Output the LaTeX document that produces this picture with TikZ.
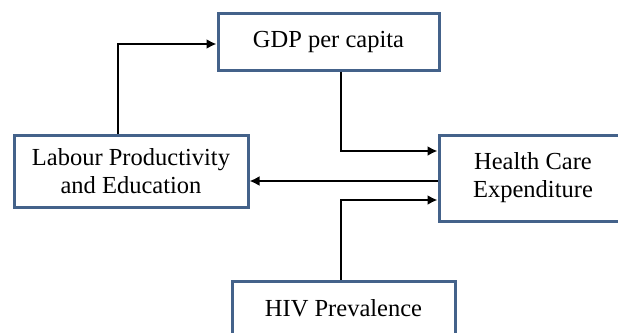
\documentclass[tikz,border=0pt]{standalone}
\usepackage{fontspec}
\setmainfont{Liberation Serif}
\usetikzlibrary{arrows.meta}
\definecolor{boxline}{RGB}{68,98,138}
\begin{document}
\begin{tikzpicture}[x=1pt,y=-1pt,
  box/.style={draw=boxline,line width=3pt,fill=white,align=center,inner sep=0pt,
    font=\fontsize{24.5}{28}\selectfont},
  arr/.style={line width=2.4pt,-{Latex[length=10pt,width=10pt]}}]
\useasboundingbox (0,0) rectangle (618,332);
\clip (0,0) rectangle (618,332);
\node[box,minimum width=221pt,minimum height=57pt] (gdp) at (328.5,41.5) {GDP per capita};
\node[box,minimum width=234pt,minimum height=72pt] (labour) at (131,171) {Labour Productivity\\and Education};
\node[box,minimum width=188pt,minimum height=86pt] (health) at (533,178) {Health Care\\Expenditure};
\node[box,minimum width=223pt,minimum height=54pt] (hiv) at (343.5,308) {HIV Prevalence};
\coordinate (c1) at (118,44);
\coordinate (c2) at (341,151);
\coordinate (c3) at (341,200);
\coordinate (c4) at (0,181);
\draw[arr] (c1 |- labour.north) -- (c1) -- (c1 -| gdp.west);
\draw[arr] (c2 |- gdp.south) -- (c2) -- (c2 -| health.west);
\draw[arr] (c4 -| health.west) -- (c4 -| labour.east);
\draw[arr] (c3 |- hiv.north) -- (c3) -- (c3 -| health.west);
\end{tikzpicture}
\end{document}
